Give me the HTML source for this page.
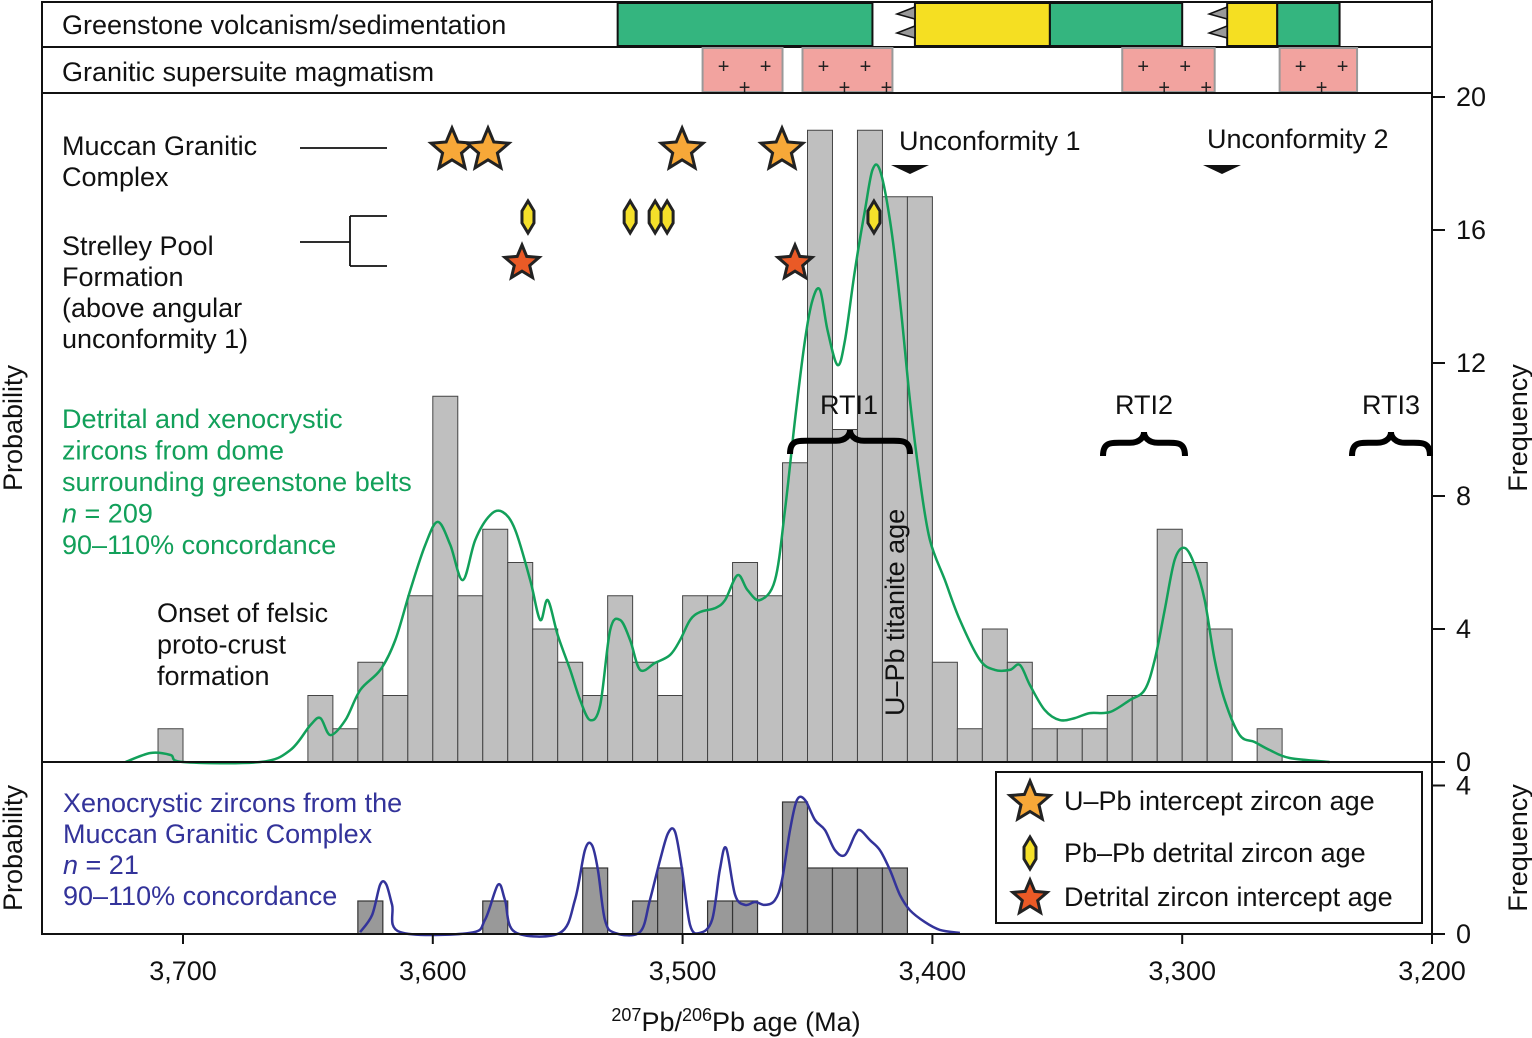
<!DOCTYPE html>
<html><head><meta charset="utf-8">
<style>
html,body{margin:0;padding:0;background:#fff;}
svg{display:block;font-family:"Liberation Sans",Arial,sans-serif;}
</style></head>
<body>
<svg id="chart" width="1532" height="1038" viewBox="0 0 1532 1038" xmlns="http://www.w3.org/2000/svg">
<g id="layer-top"></g>
<g id="layer-main"></g>
<g id="layer-bottom"></g>
<g id="layer-axes"></g>
<g id="layer-sym"></g>
</svg>
<script>
// ---- data ----
const histBinStart = [3710,3650,3640,3630,3620,3610,3600,3590,3580,3570,3560,3550,3540,3530,3520,3510,3500,3490,3480,3470,3460,3450,3440,3430,3420,3410,3400,3390,3380,3370,3360,3350,3340,3330,3320,3310,3300,3290,3270];
const histCounts   = [1,2,1,3,2,5,11,5,7,6,4,3,2,5,3,2,5,5,6,5,9,19,10,19,17,17,3,1,4,3,1,1,1,2,2,7,6,4,1];

const greenAges = [3723,3713,3705,3700,3669,3657,3649,3645,3641,3635,3629,3621,3615,3609,3603,3598,3593,3588,3583,3577,3572,3567,3561,3557,3554,3550,3545,3541,3537,3533,3529,3525,3521,3517,3511,3505,3501,3497,3493,3487,3483,3478,3474,3469,3463,3459,3455,3451,3448,3445,3442,3438,3435,3431,3427,3424,3421,3417,3413,3409,3405,3401,3395,3389,3381,3375,3369,3365,3361,3355,3349,3343,3337,3329,3321,3315,3311,3307,3303,3299,3295,3291,3287,3283,3277,3271,3265,3257,3241];
const greenProb = [0,0.27,0.21,0,0,0.36,1.11,1.32,0.81,1.26,2.17,2.77,3.67,5.17,6.53,7.22,6.53,5.47,6.68,7.43,7.52,6.98,5.47,4.27,4.87,3.82,2.77,1.86,1.26,1.71,3.97,4.27,3.67,2.77,2.98,3.22,3.67,4.27,4.51,4.63,4.87,5.62,5.17,4.87,5.47,7.58,10.29,12.69,13.89,14.2,12.99,11.94,12.69,14.8,16.6,17.8,17.8,16.3,13.89,10.89,8.48,6.68,5.47,4.27,3.07,2.77,2.77,2.92,2.32,1.56,1.26,1.32,1.47,1.5,1.86,2.17,3.07,4.57,6.08,6.44,5.92,4.87,3.07,1.86,0.81,0.6,0.36,0.12,0];

const xenoBinStart = [3630,3580,3540,3520,3510,3490,3480,3460,3450,3440,3430,3420];
const xenoCounts   = [1,1,2,1,2,1,1,4,2,2,2,2];

const blueAges = [3629.1,3624.3,3621.1,3618.7,3616.3,3613.1,3585.1,3579.1,3573.9,3571.1,3567.1,3549.1,3543.1,3539.1,3536.3,3533.9,3531.1,3527.1,3517.1,3513.1,3509.0,3505.8,3503.0,3500.2,3497.0,3493.0,3488.2,3485.1,3482.6,3479.0,3475.0,3471.0,3467.0,3463.0,3460.2,3457.0,3454.2,3451.0,3447.0,3443.0,3439.0,3435.0,3431.0,3429.0,3425.0,3421.0,3417.0,3413.0,3409.0,3403.0,3397.0,3389.0];
const blueProb = [0.05,0.51,1.32,1.34,0.78,0.05,0.03,0.38,1.32,0.91,0.05,0.03,0.91,2.25,2.39,1.72,0.38,0.03,0.05,0.91,1.99,2.71,2.74,1.72,0.24,0.03,0.38,1.72,2.31,1.05,0.78,0.86,0.78,0.91,1.45,2.79,3.6,3.6,3.06,2.79,2.25,2.12,2.66,2.79,2.52,2.25,1.72,1.05,0.64,0.32,0.11,0.03];

const xTicks = [3700,3600,3500,3400,3300,3200];
const xTickLabels = ["3,700","3,600","3,500","3,400","3,300","3,200"];
const freqTicks = [0,4,8,12,16,20];

const upbStars = [3592.3,3577.9,3500.2,3460.2];
const pbDiamonds = [3561.9,3521,3511,3506.2,3423.4];
const detStars = [3564.3,3455];

const greenstoneGreen = [[3526,3424],[3353,3300],[3262,3237]];
const greenstoneYellow = [[3407,3353],[3282,3262]];
const graniteBlocks = [[3492,3460],[3452,3416],[3324,3287],[3261,3230]];

// ---- scales ----
const X0 = 183, PX = 2.498;
const x = a => X0 + (3700 - a) * PX;
const yF = v => 762 - v * 33.25;
const yB = v => 934 - v * 33;
const yBP = v => 934 - v * 37.25;
const FS = 27;

const NS = "http://www.w3.org/2000/svg";
function mk(parent, tag, attrs, text){
  const e = document.createElementNS(NS, tag);
  for (const k in attrs) e.setAttribute(k, attrs[k]);
  if (text !== undefined) e.textContent = text;
  document.getElementById(parent).appendChild(e);
  return e;
}
function txt(parent, xx, yy, s, size, fill, anchor){
  return mk(parent,'text',{x:xx,y:yy,'font-size':size||FS,fill:fill||'#111','text-anchor':anchor||'start'},s);
}
function smooth(P){
  let d = `M${P[0][0].toFixed(1)},${P[0][1].toFixed(1)}`;
  for (let i=0;i<P.length-1;i++){
    const p0=P[Math.max(0,i-1)],p1=P[i],p2=P[i+1],p3=P[Math.min(P.length-1,i+2)];
    const c1=[p1[0]+(p2[0]-p0[0])/6,p1[1]+(p2[1]-p0[1])/6];
    const c2=[p2[0]-(p3[0]-p1[0])/6,p2[1]-(p3[1]-p1[1])/6];
    d+=` C${c1[0].toFixed(1)},${c1[1].toFixed(1)} ${c2[0].toFixed(1)},${c2[1].toFixed(1)} ${p2[0].toFixed(1)},${p2[1].toFixed(1)}`;
  }
  return d;
}

// ---- top bars ----
let r = mk('layer-top','rect',{x:42,y:2,width:1390,height:45,fill:'#fff',stroke:'#111','stroke-width':2});


greenstoneGreen.forEach(s=>{
  const e = mk('layer-top','rect',{x:x(s[0]),y:3,width:x(s[1])-x(s[0]),height:43,fill:'#34b57f',stroke:'#111','stroke-width':2});
  
  
});
greenstoneYellow.forEach(s=>{
  const e = mk('layer-top','rect',{x:x(s[0]),y:3,width:x(s[1])-x(s[0]),height:43,fill:'#f5df22',stroke:'#111','stroke-width':2});
  
  
  const xe = x(s[0]);
  [14,33].forEach(cy=>{
    const t = mk('layer-top','polygon',{points:`${xe},${cy-7} ${xe-18},${cy} ${xe},${cy+5}`,fill:'#999',stroke:'#111','stroke-width':1.5});
    
    
  });
});
r = mk('layer-top','rect',{x:42,y:47,width:1390,height:46,fill:'#fff',stroke:'#111','stroke-width':2});


graniteBlocks.forEach(s=>{
  const x1 = x(s[0]), x2 = x(s[1]);
  const e = mk('layer-top','rect',{x:x1,y:48,width:x2-x1,height:44,fill:'#f2a39f',stroke:'#999','stroke-width':2});
  
  
  for (let px = x1+21; px < x2-6; px += 42){
    mk('layer-top','text',{x:px,y:73,'font-size':20,'text-anchor':'middle',fill:'#222'},'+');
    if (px+21 < x2-4) mk('layer-top','text',{x:px+21,y:94,'font-size':20,'text-anchor':'middle',fill:'#222'},'+');
  }
});
let t = txt('layer-top',62,34,'Greenstone volcanism/sedimentation');
 
t = txt('layer-top',62,81,'Granitic supersuite magmatism');
 

// ---- main histogram ----
histBinStart.forEach((b,i)=>{
  const e = mk('layer-main','rect',{x:x(b),y:yF(histCounts[i]),width:PX*10,height:yF(0)-yF(histCounts[i]),fill:'#bfbfbf',stroke:'#444','stroke-width':1});
  
  
});
let pl = mk('layer-main','path',{d:smooth(greenAges.map((a,i)=>[x(a),yF(greenProb[i])])),fill:'none',stroke:'#12a05a','stroke-width':2.5,'stroke-linejoin':'round'});



// ---- bottom panel ----
xenoBinStart.forEach((b,i)=>{
  const e = mk('layer-bottom','rect',{x:x(b),y:yB(xenoCounts[i]),width:PX*10,height:yB(0)-yB(xenoCounts[i]),fill:'#999',stroke:'#333','stroke-width':1.2});
  
  
});
pl = mk('layer-bottom','path',{d:smooth(blueAges.map((a,i)=>[x(a),yBP(blueProb[i])])),fill:'none',stroke:'#33339a','stroke-width':2.5,'stroke-linejoin':'round'});



// ---- axes / frames ----
r = mk('layer-axes','rect',{x:42,y:93,width:1390,height:841,fill:'none',stroke:'#111','stroke-width':2});
 
let ln = mk('layer-axes','line',{x1:42,y1:762,x2:1432,y2:762,stroke:'#111','stroke-width':2});
 
ln = mk('layer-axes','line',{x1:1432,y1:0,x2:1432,y2:944,stroke:'#111','stroke-width':2});
 
xTicks.forEach((v,i)=>{
  mk('layer-axes','line',{x1:x(v),y1:934,x2:x(v),y2:944,stroke:'#111','stroke-width':2});
  const l = txt('layer-axes',x(v),980,xTickLabels[i],FS,'#111','middle');
   
});
freqTicks.forEach(v=>{
  mk('layer-axes','line',{x1:1432,y1:yF(v),x2:1445,y2:yF(v),stroke:'#111','stroke-width':2});
  const l = txt('layer-axes',1456,yF(v)+9,String(v));
   
});
[[0,'0'],[4.5,'4']].forEach(p=>{
  mk('layer-axes','line',{x1:1432,y1:yB(p[0]),x2:1445,y2:yB(p[0]),stroke:'#111','stroke-width':2});
  const l = txt('layer-axes',1456,yB(p[0])+9,p[1]);
   
});
t = mk('layer-axes','text',{x:736,y:1031,'font-size':FS,'text-anchor':'middle',fill:'#111'});
 
t.innerHTML = '<tspan dy="-10" font-size="18">207</tspan><tspan dy="10">Pb/</tspan><tspan dy="-10" font-size="18">206</tspan><tspan dy="10">Pb age (Ma)</tspan>';
[[22,428,'probability-axis-title','Probability'],[22,848,'bottom-probability-axis-title','Probability'],[1527,428,'frequency-axis-title','Frequency'],[1527,848,'bottom-frequency-axis-title','Frequency']].forEach(a=>{
  const e = mk('layer-axes','text',{x:0,y:0,'font-size':FS,'text-anchor':'middle',fill:'#111',transform:`translate(${a[0]},${a[1]}) rotate(-90)`},a[3]);
   
});

// ---- symbols ----
function starPts(cx,cy,R){
  const rr = R*0.45, p=[];
  for(let k=0;k<10;k++){const ang=-Math.PI/2+k*Math.PI/5;const rad=k%2?rr:R;p.push((cx+rad*Math.cos(ang)).toFixed(1)+','+(cy+rad*Math.sin(ang)).toFixed(1));}
  return p.join(' ');
}
function diamondPts(cx,cy){return `${cx},${cy-16} ${cx+6},${cy-6} ${cx+6},${cy+6} ${cx},${cy+16} ${cx-6},${cy+6} ${cx-6},${cy-6}`;}
upbStars.forEach(a=>{
  const e = mk('layer-sym','polygon',{points:starPts(x(a),150,22),fill:'#f7a838',stroke:'#222','stroke-width':3});
   
});
pbDiamonds.forEach(a=>{
  const e = mk('layer-sym','polygon',{points:diamondPts(x(a),217),fill:'#f5e02a',stroke:'#222','stroke-width':3});
   
});
detStars.forEach(a=>{
  const e = mk('layer-sym','polygon',{points:starPts(x(a),263,18),fill:'#ea5a26',stroke:'#222','stroke-width':3});
   
});
[[910,'Unconformity 1',899,150],[1222,'Unconformity 2',1207,148]].forEach(u=>{
  const p = mk('layer-sym','polygon',{points:`${u[0]-19},165 ${u[0]+19},165 ${u[0]},174`,fill:'#111'});
   
  const l = txt('layer-sym',u[2],u[3],u[1]);
   
});
function brace(x1,x2,yt,h){
  const m=(x1+x2)/2;
  return `M${x1},${yt+h} C${x1},${yt+h*0.4} ${x1+8},${yt+h*0.45} ${x1+20},${yt+h*0.45} L${m-14},${yt+h*0.45} C${m-4},${yt+h*0.45} ${m},${yt+h*0.2} ${m},${yt} C${m},${yt+h*0.2} ${m+4},${yt+h*0.45} ${m+14},${yt+h*0.45} L${x2-20},${yt+h*0.45} C${x2-8},${yt+h*0.45} ${x2},${yt+h*0.4} ${x2},${yt+h}`;
}
[[790,910,430,'RTI1',849],[1103,1185,432,'RTI2',1144],[1352,1430,432,'RTI3',1391]].forEach(b=>{
  const p = mk('layer-sym','path',{d:brace(b[0],b[1],b[2],24),fill:'none',stroke:'#000','stroke-width':6});
   
  const l = txt('layer-sym',b[4],414,b[3],FS,'#111','middle');
   
});
t = mk('layer-sym','text',{x:0,y:0,'font-size':FS,fill:'#111',transform:'translate(904,716) rotate(-90)'},'U–Pb titanite age');
 

function block(lines,x0,y0,dy,fill,name){
  const e = mk('layer-sym','text',{x:x0,y:y0,'font-size':FS,fill:fill});
   
  e.innerHTML = lines.map((s,i)=>`<tspan x="${x0}" dy="${i?dy:0}">${s}</tspan>`).join('');
}
block(['Muccan Granitic','Complex'],62,155,31,'#111','muccan-label');
block(['Strelley Pool','Formation','(above angular','unconformity 1)'],62,255,31,'#111','strelley-label');
block(['Detrital and xenocrystic','zircons from dome','surrounding greenstone belts','<tspan font-style="italic">n</tspan> = 209','90–110% concordance'],62,428,31.5,'#12a05a','detrital-annotation');
block(['Onset of felsic','proto-crust','formation'],157,622,31.5,'#111','onset-annotation');
block(['Xenocrystic zircons from the','Muccan Granitic Complex','<tspan font-style="italic">n</tspan> = 21','90–110% concordance'],63,812,31,'#33339a','xenocryst-annotation');
mk('layer-sym','path',{d:'M300,148 H387 M300,242 H350 M350,216 V266 M350,216 H387 M350,266 H387',stroke:'#111','stroke-width':1.8,fill:'none'});

r = mk('layer-sym','rect',{x:996,y:772,width:426,height:151,fill:'#fff',stroke:'#111','stroke-width':2});
 
let e = mk('layer-sym','polygon',{points:starPts(1030,802,21),fill:'#f7a838',stroke:'#222','stroke-width':3});
 
e = mk('layer-sym','polygon',{points:diamondPts(1030,853),fill:'#f5e02a',stroke:'#222','stroke-width':3});
 
e = mk('layer-sym','polygon',{points:starPts(1030,898,18),fill:'#ea5a26',stroke:'#222','stroke-width':3});
 
[['U–Pb intercept zircon age',810],['Pb–Pb detrital zircon age',862],['Detrital zircon intercept age',906]].forEach(l=>{
  const tt = txt('layer-sym',1064,l[1],l[0]);
   
});
</script>
</body></html>
